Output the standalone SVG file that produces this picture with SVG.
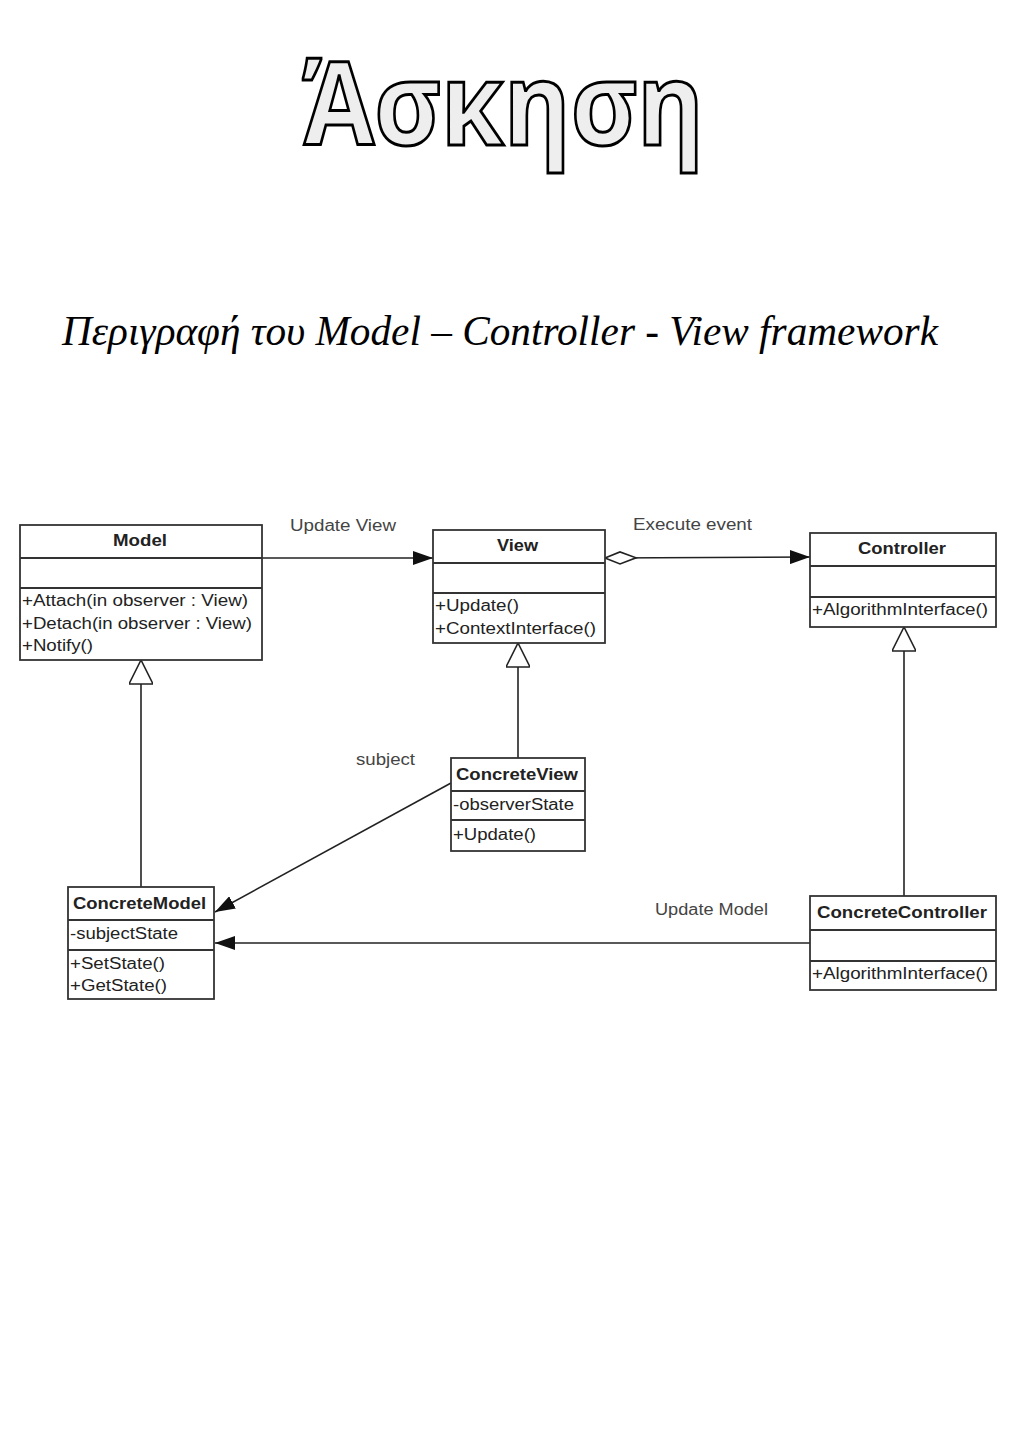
<svg xmlns="http://www.w3.org/2000/svg" width="1024" height="1448" viewBox="0 0 1024 1448">
<style>
.box{fill:#fff;stroke:#333;stroke-width:1.8}
.sep{stroke:#333;stroke-width:1.8}
.t{font-family:"Liberation Sans",Arial,sans-serif;font-size:16px;fill:#222}
.b{font-weight:bold}
.lbl{font-family:"Liberation Sans",Arial,sans-serif;font-size:16px;fill:#444}
.conn{stroke:#222;stroke-width:1.6;fill:none}
</style>
<defs>
<marker id="arr" viewBox="0 0 20 14" refX="20" refY="7" markerWidth="20" markerHeight="14" markerUnits="userSpaceOnUse" orient="auto">
<path d="M0,0 L20,7 L0,14 Z" fill="#111"/>
</marker>
<marker id="gen" viewBox="0 0 28 24" refX="26" refY="12" markerWidth="28" markerHeight="24" markerUnits="userSpaceOnUse" orient="auto">
<path d="M2,0 L26,12 L2,24 Z" fill="#fff" stroke="#222" stroke-width="1.6"/>
</marker>
<marker id="dia" viewBox="0 0 34 16" refX="1" refY="8" markerWidth="34" markerHeight="16" markerUnits="userSpaceOnUse" orient="auto">
<path d="M1,8 L16,2 L32,8 L16,14 Z" fill="#fff" stroke="#222" stroke-width="1.6"/>
</marker>
</defs>
<rect width="1024" height="1448" fill="#fff"/>
<text x="302" y="145" textLength="402" lengthAdjust="spacingAndGlyphs" font-family="'Open Sans','Noto Sans',sans-serif" font-weight="bold" font-size="115" fill="#eeeeee" stroke="#000" stroke-width="3">Άσκηση</text>
<text x="62" y="345" textLength="876" lengthAdjust="spacingAndGlyphs" font-family="'Liberation Serif','Times New Roman',serif" font-style="italic" font-size="42" fill="#000">Περιγραφή του Model – Controller - View framework</text>

<g id="connectors">
<line class="conn" x1="262" y1="558" x2="433" y2="558" marker-end="url(#arr)"/>
<line class="conn" x1="605" y1="558" x2="810" y2="557" marker-start="url(#dia)" marker-end="url(#arr)"/>
<line class="conn" x1="141" y1="887" x2="141" y2="660" marker-end="url(#gen)"/>
<line class="conn" x1="518" y1="758" x2="518" y2="643" marker-end="url(#gen)"/>
<line class="conn" x1="904" y1="896" x2="904" y2="627" marker-end="url(#gen)"/>
<line class="conn" x1="451" y1="783" x2="215" y2="912" marker-end="url(#arr)"/>
<line class="conn" x1="810" y1="943" x2="215" y2="943" marker-end="url(#arr)"/>
<text class="lbl" x="290" y="531" textLength="106" lengthAdjust="spacingAndGlyphs">Update View</text>
<text class="lbl" x="633" y="530" textLength="119" lengthAdjust="spacingAndGlyphs">Execute event</text>
<text class="lbl" x="356" y="765" textLength="59" lengthAdjust="spacingAndGlyphs">subject</text>
<text class="lbl" x="655" y="915" textLength="113" lengthAdjust="spacingAndGlyphs">Update Model</text>
</g>

<g id="Model">
<rect class="box" x="20" y="525" width="242" height="135"/>
<line class="sep" x1="20" y1="558" x2="262" y2="558"/>
<line class="sep" x1="20" y1="588" x2="262" y2="588"/>
<text class="t b" x="113" y="546" textLength="54" lengthAdjust="spacingAndGlyphs">Model</text>
<text class="t" x="22" y="606" textLength="226" lengthAdjust="spacingAndGlyphs">+Attach(in observer : View)</text>
<text class="t" x="22" y="629" textLength="230" lengthAdjust="spacingAndGlyphs">+Detach(in observer : View)</text>
<text class="t" x="22" y="651" textLength="71" lengthAdjust="spacingAndGlyphs">+Notify()</text>
</g>

<g id="View">
<rect class="box" x="433" y="530" width="172" height="113"/>
<line class="sep" x1="433" y1="563" x2="605" y2="563"/>
<line class="sep" x1="433" y1="593" x2="605" y2="593"/>
<text class="t b" x="497" y="551" textLength="41" lengthAdjust="spacingAndGlyphs">View</text>
<text class="t" x="435" y="611" textLength="84" lengthAdjust="spacingAndGlyphs">+Update()</text>
<text class="t" x="435" y="634" textLength="161" lengthAdjust="spacingAndGlyphs">+ContextInterface()</text>
</g>

<g id="Controller">
<rect class="box" x="810" y="533" width="186" height="94"/>
<line class="sep" x1="810" y1="566" x2="996" y2="566"/>
<line class="sep" x1="810" y1="597" x2="996" y2="597"/>
<text class="t b" x="858" y="554" textLength="88" lengthAdjust="spacingAndGlyphs">Controller</text>
<text class="t" x="812" y="615" textLength="176" lengthAdjust="spacingAndGlyphs">+AlgorithmInterface()</text>
</g>

<g id="ConcreteView">
<rect class="box" x="451" y="758" width="134" height="93"/>
<line class="sep" x1="451" y1="791" x2="585" y2="791"/>
<line class="sep" x1="451" y1="820" x2="585" y2="820"/>
<text class="t b" x="456" y="780" textLength="122" lengthAdjust="spacingAndGlyphs">ConcreteView</text>
<text class="t" x="453" y="810" textLength="121" lengthAdjust="spacingAndGlyphs">-observerState</text>
<text class="t" x="453" y="840" textLength="83" lengthAdjust="spacingAndGlyphs">+Update()</text>
</g>

<g id="ConcreteModel">
<rect class="box" x="68" y="887" width="146" height="112"/>
<line class="sep" x1="68" y1="920" x2="214" y2="920"/>
<line class="sep" x1="68" y1="950" x2="214" y2="950"/>
<text class="t b" x="73" y="909" textLength="133" lengthAdjust="spacingAndGlyphs">ConcreteModel</text>
<text class="t" x="70" y="939" textLength="108" lengthAdjust="spacingAndGlyphs">-subjectState</text>
<text class="t" x="70" y="969" textLength="95" lengthAdjust="spacingAndGlyphs">+SetState()</text>
<text class="t" x="70" y="991" textLength="97" lengthAdjust="spacingAndGlyphs">+GetState()</text>
</g>

<g id="ConcreteController">
<rect class="box" x="810" y="896" width="186" height="94"/>
<line class="sep" x1="810" y1="930" x2="996" y2="930"/>
<line class="sep" x1="810" y1="961" x2="996" y2="961"/>
<text class="t b" x="817" y="918" textLength="170" lengthAdjust="spacingAndGlyphs">ConcreteController</text>
<text class="t" x="812" y="979" textLength="176" lengthAdjust="spacingAndGlyphs">+AlgorithmInterface()</text>
</g>
</svg>
